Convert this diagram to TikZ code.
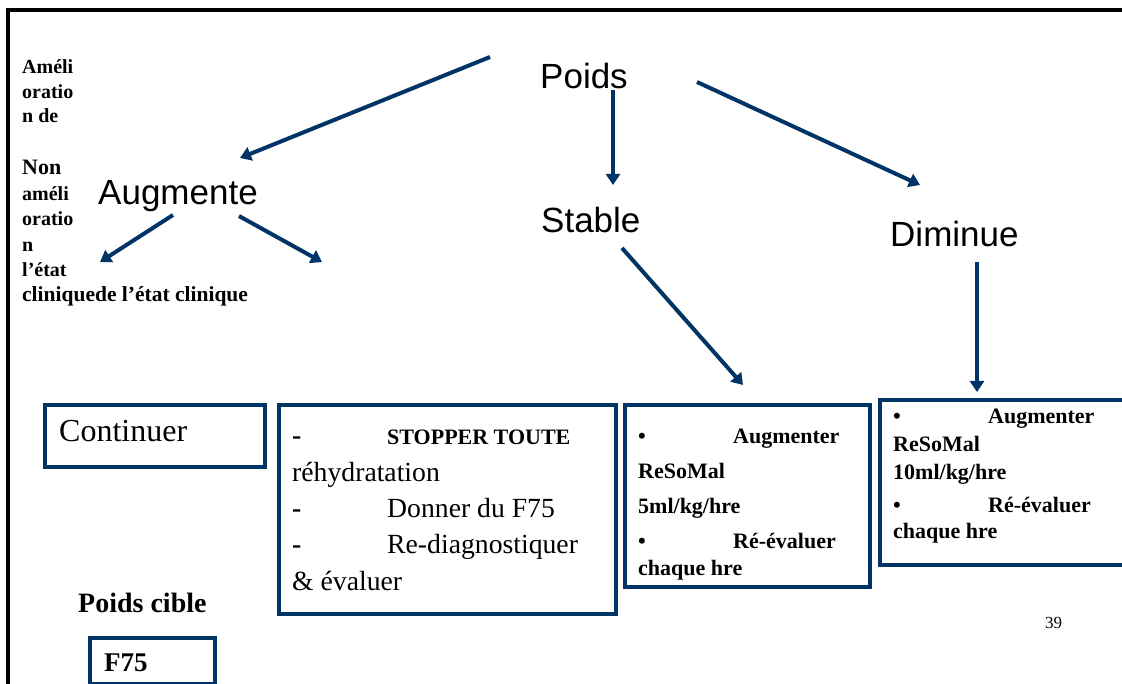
\documentclass[tikz,border=0pt]{standalone}
\usepackage{fontspec}
\setmainfont{Liberation Serif}
\newfontfamily\arialf{Liberation Sans}
\usetikzlibrary{arrows.meta}
\definecolor{navy}{RGB}{0,51,102}

\begin{document}
\begin{tikzpicture}[x=1pt,y=-1pt,>={Triangle[length=11pt,width=14pt]},
    fl/.style={->,draw=navy,line width=4pt},
    bx/.style={draw=navy,line width=4pt,anchor=north west,inner sep=0pt},
    big/.style={font=\arialf\fontsize{35}{42}\selectfont,inner sep=0pt,anchor=base west},
    txt/.style={inner sep=0pt,anchor=base west,align=left}]
    \useasboundingbox (0,0) rectangle (1122,684);
    \draw[line width=4pt] (8,690) -- (8,10) -- (1130,10);
    \node[big] (poids) at (540,89) {Poids};
    \node[big] (augm) at (98,205) {Augmente};
    \node[big] (stable) at (541,233) {Stable};
    \node[big] (dim) at (890,247) {Diminue};
    \coordinate (p1) at (490,57); \coordinate (a0) at (240,158);
    \coordinate (p2) at (613,90); \coordinate (s0) at (613,185);
    \coordinate (p3) at (697,82); \coordinate (d0) at (920,185);
    \coordinate (a1) at (173,215); \coordinate (l0) at (100,262);
    \coordinate (a2) at (239,216); \coordinate (r0) at (322,262);
    \coordinate (s1) at (622,248); \coordinate (s2) at (743,385);
    \coordinate (d1) at (977,262); \coordinate (d2) at (977,392);
    \draw[fl] (p1) -- (a0);
    \draw[fl] (p2) -- (s0);
    \draw[fl] (p3) -- (d0);
    \draw[fl] (a1) -- (l0);
    \draw[fl] (a2) -- (r0);
    \draw[fl] (s1) -- (s2);
    \draw[fl] (d1) -- (d2);
    \node[txt,font=\fontsize{20}{24.5}\selectfont\bfseries] (amel) at (22,123) {Améli\\oratio\\n de};
    \node[txt,font=\fontsize{20}{25.4}\selectfont\bfseries] (nonamel) at (22,302)
        {{\fontsize{22}{25}\selectfont Non}\\améli\\oratio\\n\\l’état\\{\fontsize{21.5}{25}\selectfont cliniquede l’état clinique}};
    \node[bx,minimum width=220,minimum height=62] (b1) at (43,403) {};
    \node[bx,minimum width=337,minimum height=209] (b2) at (277,403) {};
    \node[bx,minimum width=245,minimum height=182] (b3) at (623,403) {};
    \node[bx,minimum width=252,minimum height=165] (b4) at (878,398) {};
    \node[bx,minimum width=125,minimum height=46] (b5) at (88,636) {};
    \node[txt,font=\fontsize{32}{38}\selectfont] (cont) at (59,442) {Continuer};
    \node[txt,font=\fontsize{27.7}{36.3}\selectfont] (stop) at (292,590)
        {\makebox[95pt][l]{\textbf{-}}{\fontsize{22}{36.3}\selectfont\bfseries STOPPER TOUTE}\\réhydratation\\
         \makebox[95pt][l]{\textbf{-}}Donner du F75\\\makebox[95pt][l]{\textbf{-}}Re-diagnostiquer\\\& évaluer};
    \node[txt,font=\fontsize{22}{35}\selectfont\bfseries] (aug5) at (638,575)
        {\makebox[95pt][l]{\textbullet}Augmenter\\ReSoMal\\5ml/kg/hre\\\makebox[95pt][l]{\textbullet}Ré-évaluer\\[-8pt]chaque hre};
    \node[txt,font=\fontsize{22}{28}\selectfont\bfseries] (aug10) at (893,538)
        {\makebox[95pt][l]{\textbullet}Augmenter\\ReSoMal\\10ml/kg/hre\\[5pt]\makebox[95pt][l]{\textbullet}Ré-évaluer\\[-2pt]chaque hre};
    \node[txt,font=\fontsize{28}{32}\selectfont\bfseries] (cible) at (78,612) {Poids cible};
    \node[txt,font=\fontsize{27}{32}\selectfont\bfseries] (f75) at (104,671) {F75};
    \node[txt,font=\fontsize{17}{20}\selectfont] (page) at (1045,628) {39};
\end{tikzpicture}
\end{document}
